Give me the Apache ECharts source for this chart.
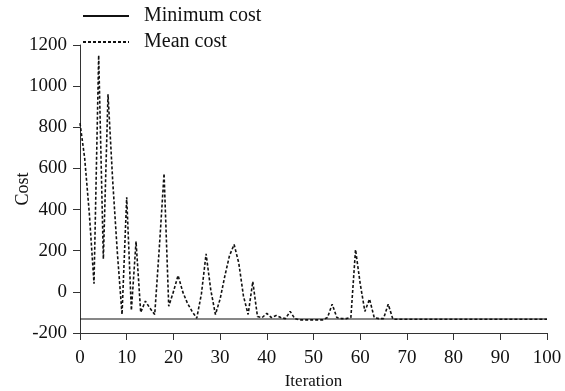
<!DOCTYPE html>
<html>
<head>
<meta charset="utf-8">
<script src="https://cdn.jsdelivr.net/npm/echarts@6/dist/echarts.min.js"></script>
<style>html,body{margin:0;padding:0;background:#fff}#c{width:565px;height:391px}</style>
</head>
<body>
<div id="c"></div>
<script>
const iterations = Array.from({length: 101}, (_, i) => i);
const minimumCost = [
  -132,-132,-132,-132,-132,-132,-132,-132,-132,-132,
  -132,-132,-132,-132,-132,-132,-132,-132,-132,-132,
  -132,-132,-132,-132,-132,-132,-132,-132,-132,-132,
  -132,-132,-132,-132,-132,-132,-132,-132,-132,-132,
  -132,-132,-132,-132,-132,-132,-132,-132,-132,-132,
  -132,-132,-132,-132,-132,-132,-132,-132,-132,-132,
  -132,-132,-132,-132,-132,-132,-132,-132,-132,-132,
  -132,-132,-132,-132,-132,-132,-132,-132,-132,-132,
  -132,-132,-132,-132,-132,-132,-132,-132,-132,-132,
  -132,-132,-132,-132,-132,-132,-132,-132,-132,-132,
  -132
];
const meanCost = [
  820, 650, 380, 40, 1150, 160, 960, 540, 190, -110,
  460, -90, 245, -100, -45, -80, -110, 220, 575, -70,
  0, 80, 0, -55, -95, -128, -10, 185, 10, -110,
  -35, 75, 175, 230, 140, -20, -110, 50, -120, -125,
  -105, -125, -115, -125, -130, -95, -130, -136, -136, -136,
  -136, -136, -136, -125, -60, -125, -130, -130, -125, 205,
  40, -95, -35, -125, -130, -130, -60, -133, -133, -133,
  -133, -133, -133, -133, -133, -133, -133, -133, -133, -133,
  -133, -133, -133, -133, -133, -133, -133, -133, -133, -133,
  -133, -133, -133, -133, -133, -133, -133, -133, -133, -133,
  -133
];
const yTicks = {min: -200, max: 1200, step: 200};
const xTicks = {min: 0, max: 100, step: 10};

const font = '"Liberation Serif", "Times New Roman", serif';
const chart = echarts.init(document.getElementById('c'), null, {renderer: 'canvas'});
chart.setOption({
  animation: false,
  backgroundColor: '#fff',
  grid: {left: 80, right: 18, top: 45, bottom: 58, containLabel: false, outerBoundsMode: 'none'},
  legend: {
    orient: 'vertical',
    left: 82, top: 6, padding: 0,
    itemWidth: 46, itemHeight: 14, itemGap: 6,
    itemStyle: {color: 'transparent', borderWidth: 0, opacity: 0},
    textStyle: {fontFamily: font, fontSize: 20, color: '#111', padding: [0, 0, 0, 10]},
    data: ['Minimum cost', 'Mean cost']
  },
  xAxis: {
    type: 'value', min: xTicks.min, max: xTicks.max, interval: xTicks.step,
    name: 'Iteration', nameLocation: 'middle', nameGap: 40, nameMoveOverlap: false,
    nameTextStyle: {fontFamily: font, fontSize: 17, color: '#111'},
    axisLine: {show: true, onZero: false, lineStyle: {color: '#333', width: 1}},
    axisTick: {show: true, length: 7, lineStyle: {color: '#333'}},
    axisLabel: {fontFamily: font, fontSize: 19, color: '#111', margin: 16},
    splitLine: {show: false}
  },
  yAxis: {
    type: 'value', min: yTicks.min, max: yTicks.max, interval: yTicks.step,
    name: 'Cost', nameLocation: 'middle', nameGap: 48, nameMoveOverlap: false,
    nameTextStyle: {fontFamily: font, fontSize: 18, color: '#111'},
    axisLine: {show: true, onZero: false, lineStyle: {color: '#333', width: 1}},
    axisTick: {show: true, length: 7, lineStyle: {color: '#333'}},
    axisLabel: {fontFamily: font, fontSize: 19, color: '#111', margin: 13, formatter: v => String(v)},
    splitLine: {show: false}
  },
  series: [
    {
      name: 'Minimum cost', type: 'line', symbol: 'none',
      data: iterations.map((x, i) => [x, minimumCost[i]]),
      lineStyle: {color: '#111', width: 1.2, type: 'solid'},
      itemStyle: {color: '#111'}
    },
    {
      name: 'Mean cost', type: 'line', symbol: 'none',
      data: iterations.map((x, i) => [x, meanCost[i]]),
      lineStyle: {color: '#111', width: 1.6, type: [3, 2]},
      itemStyle: {color: '#111'}
    }
  ]
});
</script>
</body>
</html>
